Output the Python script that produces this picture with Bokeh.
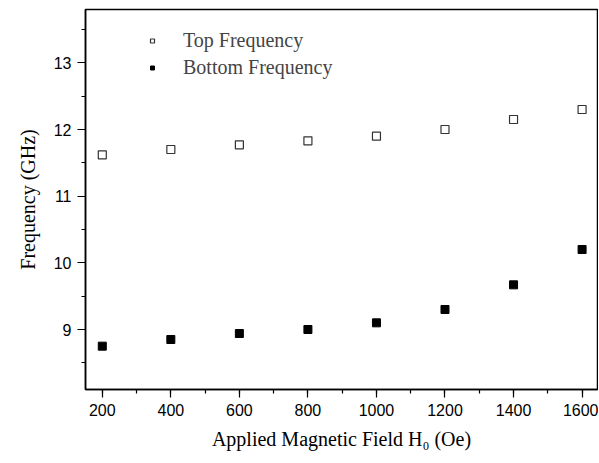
from bokeh.plotting import figure
from bokeh.models import SingleIntervalTicker, Range1d, Legend, LegendItem
from bokeh.embed import file_html
from bokeh.resources import INLINE

field = [200, 400, 600, 800, 1000, 1200, 1400, 1600]
top_freq = [11.62, 11.70, 11.77, 11.83, 11.90, 12.00, 12.15, 12.30]
bottom_freq = [8.75, 8.85, 8.94, 9.00, 9.10, 9.30, 9.67, 10.20]

p = figure(width=598, height=455, output_backend="svg", toolbar_location=None,
           x_range=Range1d(151, 1645), y_range=Range1d(8.1, 13.8),
           min_border_left=85, min_border_right=1, min_border_top=9, min_border_bottom=66)
p.xgrid.visible = False
p.ygrid.visible = False
p.outline_line_color = "black"
p.outline_line_width = 1.5
p.outline_line_alpha = 1

r_top = p.scatter(field, top_freq, marker="square", size=8, fill_color="white",
                  line_color="#333333", line_width=1.2)
r_bot = p.scatter(field, bottom_freq, marker="square", size=8, fill_color="black",
                  line_color="black", line_width=1)

p.xaxis.ticker = SingleIntervalTicker(interval=200, num_minor_ticks=2)
p.yaxis.ticker = SingleIntervalTicker(interval=1, num_minor_ticks=2)

for ax in (p.xaxis[0], p.yaxis[0]):
    ax.axis_line_width = 1.5
    ax.major_tick_line_width = 1.2
    ax.minor_tick_line_width = 1.2
    ax.major_tick_out = 8
    ax.major_tick_in = 0
    ax.minor_tick_out = 4
    ax.minor_tick_in = 0
    ax.major_label_text_font = "Liberation Sans"
    ax.major_label_text_font_size = "16px"
    ax.major_label_text_color = "black"
    ax.axis_label_text_font = "Liberation Serif"
    ax.axis_label_text_font_size = "20px"
    ax.axis_label_text_font_style = "normal"
    ax.axis_label_text_color = "black"

p.xaxis.axis_label = "Applied Magnetic Field H\u2080 (Oe)"
p.yaxis.axis_label = "Frequency (GHz)"
p.xaxis.major_label_standoff = 6
p.xaxis.axis_label_standoff = 9
p.yaxis.major_label_standoff = 6
p.yaxis.axis_label_standoff = 12

legend = Legend(items=[LegendItem(label="Top Frequency", renderers=[r_top]),
                       LegendItem(label="Bottom Frequency", renderers=[r_bot])],
                location=(62, 308), orientation="vertical")
legend.border_line_color = None
legend.background_fill_alpha = 0
legend.padding = 0
legend.margin = 0
legend.spacing = 0
legend.glyph_width = 10
legend.glyph_height = 27
legend.label_height = 27
legend.label_standoff = 26
legend.label_text_font = "Liberation Serif"
legend.label_text_font_size = "20px"
legend.label_text_line_height = 1.0
p.add_layout(legend, "center")

open("out.html", "w").write(file_html(p, INLINE))
